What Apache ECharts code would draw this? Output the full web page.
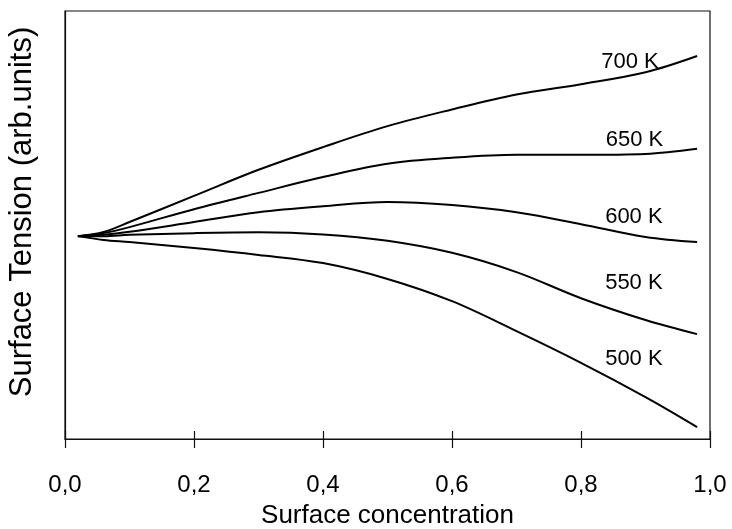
<!DOCTYPE html>
<html>
<head>
<meta charset="utf-8">
<script src="https://cdn.jsdelivr.net/npm/echarts@6/dist/echarts.min.js"></script>
<style>
html,body{margin:0;padding:0;background:#fff;}
#chart{width:732px;height:529px;}
</style>
</head>
<body>
<div id="chart"></div>
<script>
// Surface concentration sample positions
var concentration = [0.02, 0.06, 0.1, 0.2, 0.3, 0.4, 0.5, 0.6, 0.7, 0.8, 0.9, 0.98];
// Surface tension (arbitrary units) per temperature
var t700 = [4.74, 4.84, 5.07, 5.68, 6.29, 6.82, 7.31, 7.70, 8.05, 8.29, 8.57, 8.95];
var t650 = [4.74, 4.81, 4.95, 5.37, 5.75, 6.12, 6.43, 6.57, 6.64, 6.64, 6.66, 6.78];
var t600 = [4.74, 4.77, 4.84, 5.07, 5.30, 5.44, 5.54, 5.47, 5.30, 5.02, 4.72, 4.60];
var t550 = [4.74, 4.74, 4.77, 4.81, 4.83, 4.78, 4.63, 4.35, 3.90, 3.29, 2.78, 2.45];
var t500 = [4.74, 4.65, 4.60, 4.46, 4.30, 4.11, 3.74, 3.22, 2.52, 1.78, 0.98, 0.28];
var seriesNames = ['700 K', '650 K', '600 K', '550 K', '500 K'];
// annotation anchor points (data space)
var labelX = [0.876, 0.883, 0.882, 0.882, 0.882];
var labelY = [8.81, 6.99, 5.19, 3.64, 1.87];
var xTicks = [0, 0.2, 0.4, 0.6, 0.8, 1.0];

var allValues = [t700, t650, t600, t550, t500];
var FONT = 'Liberation Sans, Arial, sans-serif';

function pairs(vals){
  return concentration.map(function(x,i){ return [x, vals[i]]; });
}

var series = allValues.map(function(vals, k){
  return {
    name: seriesNames[k],
    type: 'line',
    data: pairs(vals),
    smooth: 0.35,
    showSymbol: false,
    symbol: 'none',
    lineStyle: {color: '#000', width: 2},
    z: 3,
    markPoint: {
      symbol: 'circle',
      symbolSize: 0,
      silent: true,
      label: {
        show: true,
        position: 'inside',
        formatter: seriesNames[k],
        color: '#000',
        fontFamily: FONT,
        fontSize: 22
      },
      data: [{coord: [labelX[k], labelY[k]]}]
    }
  };
});

var chart = echarts.init(document.getElementById('chart'), null, {renderer: 'canvas'});
chart.setOption({
  backgroundColor: '#fff',
  animation: false,
  grid: {left: 65, right: 22, top: 11, bottom: 90, containLabel: false, outerBoundsMode: 'none',
    show: true, borderColor: '#111', borderWidth: 1.2, backgroundColor: 'transparent'},
  xAxis: [{
    type: 'value', min: 0, max: 1, interval: 0.2,
    name: 'Surface concentration', nameLocation: 'middle', nameGap: 64,
    nameTextStyle: {fontFamily: FONT, fontSize: 26, color: '#000'},
    axisLine: {show: true, lineStyle: {color: '#111', width: 1.2}},
    axisTick: {show: true, inside: false, length: 9, lineStyle: {color: '#111', width: 1.2}},
    axisLabel: {margin: 34, fontFamily: FONT, fontSize: 24, color: '#000',
      formatter: function(v){ return v.toFixed(1).replace('.', ','); }},
    splitLine: {show: false}
  }, {
    type: 'value', min: 0, max: 1, interval: 0.2, position: 'bottom',
    axisLine: {show: false},
    axisTick: {show: true, inside: true, length: 8, lineStyle: {color: '#111', width: 1.2}},
    axisLabel: {show: false},
    splitLine: {show: false}
  }],
  yAxis: {
    type: 'value', min: 0, max: 10,
    name: 'Surface Tension (arb.units)', nameLocation: 'middle', nameGap: 27,
    nameTextStyle: {fontFamily: FONT, fontSize: 31, color: '#000', padding: [0, 0, 0, 26]},
    axisLine: {show: true, lineStyle: {color: '#111', width: 1.2}},
    axisTick: {show: false},
    axisLabel: {show: false},
    splitLine: {show: false}
  },
  series: series
});
</script>
</body>
</html>
